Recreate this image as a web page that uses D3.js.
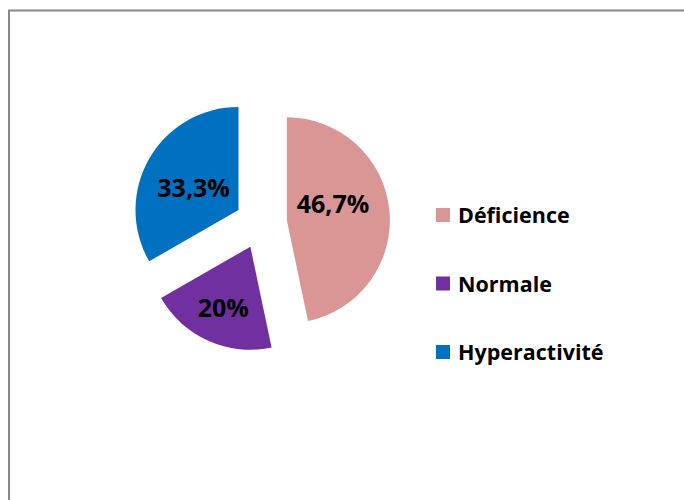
<!DOCTYPE html>
<html>
<head>
<meta charset="utf-8">
<script src="https://cdn.jsdelivr.net/npm/d3@7"></script>
<style>
  html, body { margin: 0; padding: 0; background: #fff; }
  svg { display: block; }
  text { font-family: "Open Sans", Lato, sans-serif; font-weight: 700; fill: #000; }
</style>
</head>
<body>
<svg id="chart" width="684" height="500"></svg>
<script>
// Répartition des profils
const categories = ["Déficience", "Normale", "Hyperactivité"];
const values = [46.7, 20, 33.3];
const valueLabels = ["46,7%", "20%", "33,3%"];
const colors = ["#D99694", "#7030A0", "#0070C0"];

const svg = d3.select("#chart");

// chart frame (right and bottom edges run past the page)
svg.append("rect")
  .attr("x", 9).attr("y", 10.5)
  .attr("width", 700).attr("height", 520)
  .attr("fill", "none")
  .attr("stroke", "#878787")
  .attr("stroke-width", 2);

const cx = 261, cy = 223, radius = 103, explode = 26;

const pie = d3.pie().sort(null).value(d => d)(values);
const arc = d3.arc().innerRadius(0).outerRadius(radius);

// label placement: radial fraction along bisector, angle tweak (deg)
const labelPlace = [
  { r: 0.48, da: -15 },
  { r: 0.645, da: 0 },
  { r: 0.49, da: -3 }
];

const g = svg.append("g").attr("transform", `translate(${cx},${cy})`);

const slices = g.selectAll("g.slice")
  .data(pie)
  .join("g")
  .attr("class", "slice")
  .attr("transform", d => {
    const a = (d.startAngle + d.endAngle) / 2;
    return `translate(${Math.sin(a) * explode},${-Math.cos(a) * explode})`;
  });

slices.append("path")
  .attr("d", arc)
  .attr("fill", (d, i) => colors[i]);

slices.append("text")
  .attr("text-anchor", "middle")
  .attr("dominant-baseline", "central")
  .attr("font-size", 25)
  .attr("x", (d, i) => {
    const a = (d.startAngle + d.endAngle) / 2 + labelPlace[i].da * Math.PI / 180;
    return Math.sin(a) * radius * labelPlace[i].r;
  })
  .attr("y", (d, i) => {
    const a = (d.startAngle + d.endAngle) / 2 + labelPlace[i].da * Math.PI / 180;
    return -Math.cos(a) * radius * labelPlace[i].r;
  })
  .text((d, i) => valueLabels[i]);

// legend
const legendY = d3.scalePoint().domain(categories).range([215, 352]);
const legend = svg.append("g")
  .selectAll("g")
  .data(categories)
  .join("g")
  .attr("transform", d => `translate(436,${legendY(d)})`);

legend.append("rect")
  .attr("x", 0).attr("y", -7)
  .attr("width", 14).attr("height", 14)
  .attr("fill", (d, i) => colors[i]);

legend.append("text")
  .attr("x", 22)
  .attr("y", 8)
  .attr("font-size", 21.5)
  .text(d => d);
</script>
</body>
</html>
